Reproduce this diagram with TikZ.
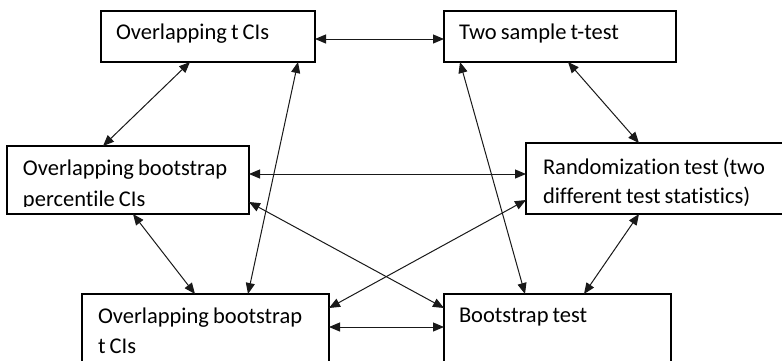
\documentclass[tikz,border=0pt]{standalone}
\usepackage{fontspec}
\setmainfont[WordSpace=0.8,Ligatures={NoCommon}]{Carlito}
\usetikzlibrary{arrows.meta,calc}
\tikzset{
  box/.style={draw=black, line width=1.3pt, rectangle, anchor=north west, inner sep=0pt, outer sep=0pt},
  txt/.style={anchor=base west, inner sep=0pt, outer sep=0pt, font=\fontsize{22.5}{30}\selectfont, text=black},
  conn/.style={line width=1pt, draw=black!90, {Triangle[length=11pt,width=9pt]}-{Triangle[length=11pt,width=9pt]}}
}
\begin{document}
\begin{tikzpicture}[x=1pt,y=-1pt]
\useasboundingbox (0,0) rectangle (782,360);
\clip (0,0) rectangle (782,360);
\fill[white] (0,0) rectangle (782,360);
% boxes
\node[box, minimum width=214pt, minimum height=51pt] (b1) at (101,11) {};
\node[box, minimum width=232pt, minimum height=51pt] (b2) at (444,11) {};
\node[box, minimum width=242pt, minimum height=68pt] (b3) at (7,146) {};
\node[box, minimum width=300pt, minimum height=71pt] (b4) at (526,143) {};
\node[box, minimum width=247pt, minimum height=100pt] (b5) at (82,294) {};
\node[box, minimum width=227pt, minimum height=100pt] (b6) at (444,294) {};
% texts
\node[txt] (t1) at ($(b1.north west)+(15,28)$) {Overlapping t CIs};
\node[txt] (t2) at ($(b2.north west)+(15,28)$) {Two sample t-test};
\node[txt] (t3a) at ($(b3.north west)+(16,29)$) {Overlapping bootstrap};
\begin{scope}
\clip (7,146) rectangle (249,206);
\node[txt] (t3b) at ($(b3.north west)+(16,60)$) {percentile CIs};
\end{scope}
\node[txt] (t4a) at ($(b4.north west)+(17,31)$) {Randomization test (two};
\node[txt] (t4b) at ($(b4.north west)+(17,60)$) {different test statistics)};
\node[txt] (t5a) at ($(b5.north west)+(16,29)$) {Overlapping bootstrap};
\node[txt] (t5b) at ($(b5.north west)+(16,59)$) {t CIs};
\node[txt] (t6) at ($(b6.north west)+(15,28)$) {Bootstrap test};
% connectors
\draw[conn] ($(b1.north east)+(0,28)$) -- ($(b2.north west)+(0,28)$);
\draw[conn] ($(b1.south west)+(89,0)$) -- ($(b3.north west)+(96,0)$);
\draw[conn] ($(b1.south west)+(197,0)$) -- ($(b5.north west)+(166,0)$);
\draw[conn] ($(b2.south west)+(16,0)$) -- ($(b6.north west)+(81,0)$);
\draw[conn] ($(b2.south west)+(124,0)$) -- ($(b4.north west)+(113,0)$);
\draw[conn] ($(b3.north east)+(0,28)$) -- ($(b4.north west)+(0,31)$);
\draw[conn] ($(b3.north east)+(0,56)$) -- ($(b6.north west)+(0,14)$);
\draw[conn] ($(b5.north east)+(0,14)$) -- ($(b4.north west)+(0,57)$);
\draw[conn] ($(b3.south west)+(126,0)$) -- ($(b5.north west)+(113,0)$);
\draw[conn] ($(b4.south west)+(113,0)$) -- ($(b6.north west)+(140,0)$);
\draw[conn] ($(b5.north east)+(0,33)$) -- ($(b6.north west)+(0,33)$);
\end{tikzpicture}
\end{document}
